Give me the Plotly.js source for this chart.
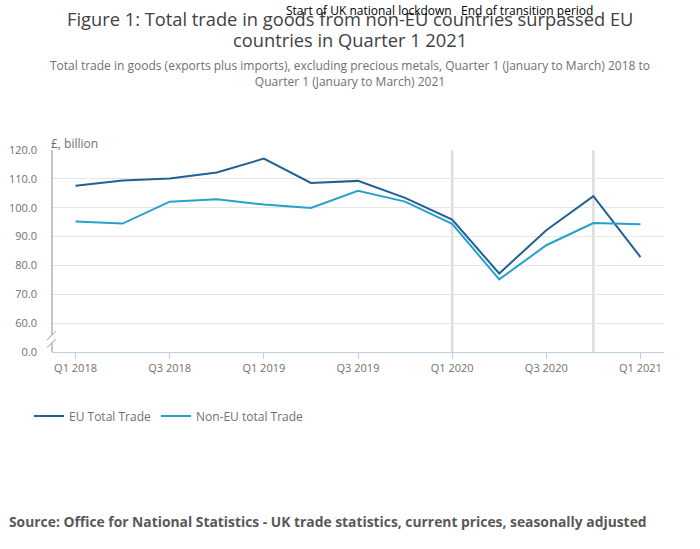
<!DOCTYPE html>
<html>
<head>
<meta charset="utf-8">
<script src="https://cdn.plot.ly/plotly-3.0.1.min.js"></script>
<style>html,body{margin:0;padding:0;background:#fff;}#chart{width:700px;height:549px;}</style>
</head>
<body>
<div id="chart"></div>
<script>
const quarters = ["Q1 2018","Q2 2018","Q3 2018","Q4 2018","Q1 2019","Q2 2019","Q3 2019","Q4 2019","Q1 2020","Q2 2020","Q3 2020","Q4 2020","Q1 2021"];
const euTotal = [107.6,109.4,110.1,112.2,117.0,108.6,109.3,103.4,95.9,77.2,92.2,104.0,82.9];
const nonEuTotal = [95.2,94.5,102.1,102.9,101.1,99.9,105.9,102.1,94.4,75.2,87.0,94.7,94.3];
const xTickVals = ["Q1 2018","Q3 2018","Q1 2019","Q3 2019","Q1 2020","Q3 2020","Q1 2021"];
const yTickVals = [50,60,70,80,90,100,110,120];
const yTickText = ["0.0","60.0","70.0","80.0","90.0","100.0","110.0","120.0"];
const eventQuarters = ["Q1 2020","Q4 2020"];
const eventLabels = ["Start of UK national lockdown","End of transition period"];
const titleLines = ["Figure 1: Total trade in goods from non-EU countries surpassed EU","countries in Quarter 1 2021"];

const font = "'Open Sans', sans-serif";
const traces = [
  {x: quarters, y: euTotal, type: "scatter", mode: "lines", name: "EU Total Trade",
   line: {color: "#206095", width: 2}},
  {x: quarters, y: nonEuTotal, type: "scatter", mode: "lines", name: "Non-EU total Trade",
   line: {color: "#27a0cc", width: 2}}
];

const shapes = [];
eventQuarters.forEach(q => {
  const i = quarters.indexOf(q);
  shapes.push({type: "line", xref: "x", yref: "paper", x0: i, x1: i, y0: 0, y1: 1,
    line: {color: "#dddddd", width: 2.5}, layer: "below"});
});
// left axis line with break
shapes.push({type: "line", xref: "paper", yref: "y", x0: 0, x1: 0, y0: 120, y1: 56.0, line: {color: "#8c8c8c", width: 1}});
shapes.push({type: "line", xref: "paper", yref: "y", x0: 0, x1: 0, y0: 53.0, y1: 50, line: {color: "#8c8c8c", width: 1}});
shapes.push({type: "line", xref: "paper", yref: "y", x0: -0.008, x1: 0.006, y0: 54.2, y1: 57.2, line: {color: "#999999", width: 1}});
shapes.push({type: "line", xref: "paper", yref: "y", x0: -0.008, x1: 0.006, y0: 51.6, y1: 54.4, line: {color: "#999999", width: 1}});

const py = p => (352 - p) / 202;
const px = p => (p - 52) / 612;
const annotations = [
  {text: "£, billion", xref: "paper", yref: "paper", x: 0, xshift: -3, y: py(143), xanchor: "left", yanchor: "middle",
   showarrow: false, font: {family: font, size: 12, color: "#707070"}},
  {text: "Total trade in goods (exports plus imports), excluding precious metals, Quarter 1 (January to March) 2018 to<br>Quarter 1 (January to March) 2021",
   xref: "paper", yref: "paper", x: px(350), y: py(73), xanchor: "center", yanchor: "middle",
   showarrow: false, font: {family: font, size: 12, color: "#707070"}},
  {text: "<b>Source: Office for National Statistics - UK trade statistics, current prices, seasonally adjusted</b>",
   xref: "paper", yref: "paper", x: px(10), xshift: -3, y: py(521), xanchor: "left", yanchor: "middle",
   showarrow: false, font: {family: font, size: 13.85, color: "#595959"}}
];
[18, 40].forEach((yy, k) => {
  annotations.push({text: titleLines[k], xref: "paper", yref: "paper", x: px(350), y: py(yy),
    xanchor: "center", yanchor: "middle", showarrow: false, font: {family: font, size: 18.3, color: "#414042"}});
});
eventQuarters.forEach((q, k) => {
  annotations.push({text: eventLabels[k], xref: "x", yref: "paper", x: quarters.indexOf(q), xshift: 2, y: py(10),
    xanchor: "right", yanchor: "middle", showarrow: false, font: {family: font, size: 12, color: "#000000"}});
});

const layout = {
  width: 700, height: 549,
  margin: {l: 52, r: 36, t: 150, b: 197},
  paper_bgcolor: "#ffffff", plot_bgcolor: "#ffffff",
  font: {family: font, color: "#707070"},
  xaxis: {type: "category", range: [-0.5, 12.5], tickmode: "array", tickvals: xTickVals,
    ticks: "outside", ticklen: 6, tickcolor: "#bfcfe6", showline: true, linecolor: "#bfcfe6",
    showgrid: false, zeroline: false, tickfont: {family: font, size: 11, color: "#707070"}, fixedrange: true},
  yaxis: {range: [50, 120], tickmode: "array", tickvals: yTickVals, ticktext: yTickText,
    showline: false, gridcolor: "#e5e5e5", zeroline: false, ticks: "", ticklabelstandoff: 14,
    tickfont: {family: font, size: 11, color: "#707070"}, fixedrange: true},
  legend: {orientation: "h", x: px(29), xanchor: "left", y: -(416-352)/202, yanchor: "middle",
    font: {family: font, size: 12, color: "#707070"}, traceorder: "normal"},
  showlegend: true,
  shapes: shapes,
  annotations: annotations
};

Plotly.newPlot("chart", traces, layout, {displayModeBar: false, staticPlot: true});
</script>
</body>
</html>
